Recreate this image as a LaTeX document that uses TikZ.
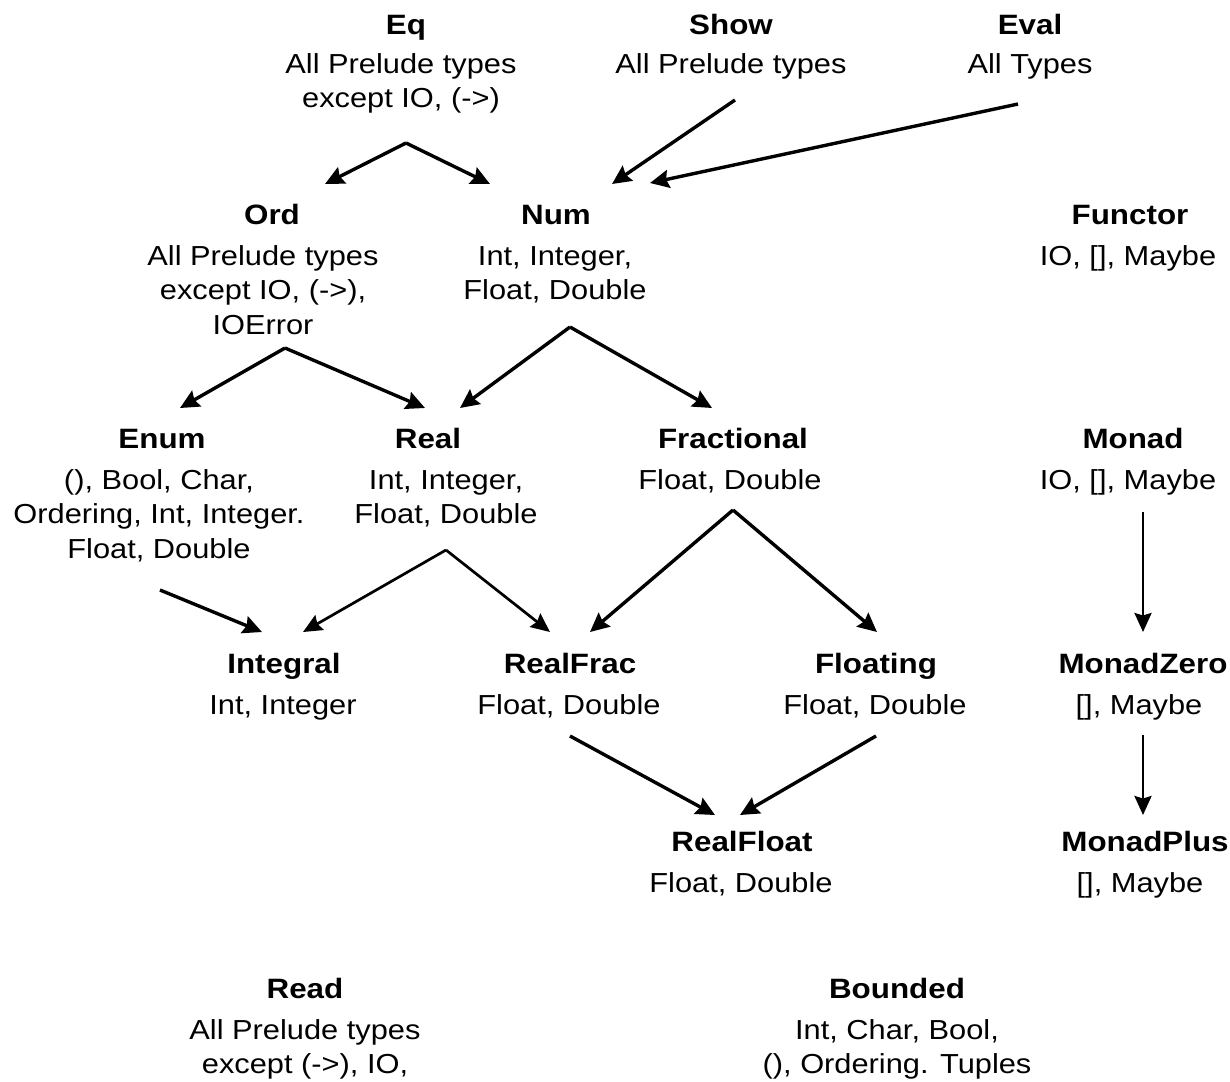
\documentclass[tikz,border=0pt]{standalone}
\usepackage{fontspec}
\setmainfont{Liberation Sans}[FakeStretch=1.12]
\usetikzlibrary{arrows.meta}
\tikzset{
  cls/.style={font=\bfseries\fontsize{28}{34}\selectfont, inner sep=0pt, anchor=base},
  desc/.style={font=\fontsize{27.5}{34.5}\selectfont, inner sep=0pt, anchor=north, align=center},
  arr/.style={line width=3.4pt, -{Stealth[length=19pt,width=18pt,inset=2.5pt]}},
  arrthin/.style={line width=2.7pt, -{Stealth[length=19pt,width=17pt,inset=2.5pt]}},
}
\begin{document}
\begin{tikzpicture}[x=1pt,y=-1pt]
\useasboundingbox[fill=white] (0,0) rectangle (1230,1081);
% titles (baselines) and descriptions (north = baseline - 24.15)
\node[cls] (eq) at (406,35) {Eq};
\node[desc] (eqd) at (401,48.85) {\strut All Prelude types\\except IO, (->)};
\node[cls] (show) at (731,35) {Show};
\node[desc] (showd) at (731,48.85) {\strut All Prelude types};
\node[cls] (eval) at (1030,35) {Eval};
\node[desc] (evald) at (1030,48.85) {\strut All Types};

\node[cls] (ord) at (272,224) {Ord};
\node[desc] (ordd) at (263,240.85) {\strut All Prelude types\\except IO, (->),\\IOError};
\node[cls] (num) at (556,224) {Num};
\node[desc] (numd) at (555,240.85) {\strut Int, Integer,\\Float, Double};
\node[cls] (functor) at (1130,224) {Functor};
\node[desc] (functord) at (1128,240.85) {\strut IO, [], Maybe};

\node[cls] (enum) at (162,448) {Enum};
\node[desc] (enumd) at (159,464.85) {\strut (), Bool, Char,\\Ordering, Int, Integer.\\Float, Double};
\node[cls] (real) at (428,448) {Real};
\node[desc] (reald) at (446,464.85) {\strut Int, Integer,\\Float, Double};
\node[cls] (frac) at (733,448) {Fractional};
\node[desc] (fracd) at (730,464.85) {\strut Float, Double};
\node[cls] (monad) at (1133,448) {Monad};
\node[desc] (monadd) at (1128,464.85) {\strut IO, [], Maybe};

\node[cls] (integral) at (284,673) {Integral};
\node[desc] (integrald) at (283,689.85) {\strut Int, Integer};
\node[cls] (realfrac) at (570,673) {RealFrac};
\node[desc] (realfracd) at (569,689.85) {\strut Float, Double};
\node[cls] (floating) at (876,673) {Floating};
\node[desc] (floatingd) at (875,689.85) {\strut Float, Double};
\node[cls] (monadzero) at (1143,673) {MonadZero};
\node[desc] (monadzerod) at (1139,689.85) {\strut [], Maybe};

\node[cls] (realfloat) at (742,851) {RealFloat};
\node[desc] (realfloatd) at (741,867.85) {\strut Float, Double};
\node[cls] (monadplus) at (1145,851) {MonadPlus};
\node[desc] (monadplusd) at (1140,867.85) {\strut [], Maybe};

\node[cls] (read) at (305,998) {Read};
\node[desc] (readd) at (305,1014.85) {\strut All Prelude types\\except (->), IO,};
\node[cls] (bounded) at (897,998) {Bounded};
\node[desc] (boundedd) at (897,1014.85) {\strut Int, Char, Bool,\\(), Ordering. Tuples};

% connector ends
\coordinate (eqo) at (406,143);
\coordinate (ordi) at (325,184);
\coordinate (numi1) at (490,184);
\coordinate (showo) at (735,100);
\coordinate (numi2) at (612,184);
\coordinate (evalo) at (1018,104);
\coordinate (numi3) at (650,183);
\coordinate (ordo) at (285,348);
\coordinate (enumi) at (180,408);
\coordinate (reali1) at (425,408);
\coordinate (numo) at (570,327);
\coordinate (reali2) at (460,408);
\coordinate (fraci) at (712,408);
\coordinate (fraco) at (733,510);
\coordinate (realfraci1) at (590,632);
\coordinate (floatingi) at (877,632);
\coordinate (realo) at (446,550);
\coordinate (integrali1) at (303,632);
\coordinate (realfraci2) at (550,632);
\coordinate (enumo) at (160,590);
\coordinate (integrali2) at (262,632);
\coordinate (realfraco) at (570,736);
\coordinate (realfloati1) at (715,815);
\coordinate (floatingo) at (876,736);
\coordinate (realfloati2) at (740,815);
\coordinate (monado) at (1143,512);
\coordinate (monadzeroi) at (1143,632);
\coordinate (monadzeroo) at (1143,735);
\coordinate (monadplusi) at (1143,815);

\draw[arr] (eqo) -- (ordi);
\draw[arr] (eqo) -- (numi1);
\draw[arr] (showo) -- (numi2);
\draw[arr] (evalo) -- (numi3);
\draw[arr] (ordo) -- (enumi);
\draw[arr] (ordo) -- (reali1);
\draw[arr] (numo) -- (reali2);
\draw[arr] (numo) -- (fraci);
\draw[arr] (fraco) -- (realfraci1);
\draw[arr] (fraco) -- (floatingi);
\draw[arrthin] (realo) -- (integrali1);
\draw[arrthin] (realo) -- (realfraci2);
\draw[arr] (enumo) -- (integrali2);
\draw[arr] (realfraco) -- (realfloati1);
\draw[arr] (floatingo) -- (realfloati2);
\draw[arrthin] (monado) -- (monadzeroi);
\draw[arrthin] (monadzeroo) -- (monadplusi);
\end{tikzpicture}
\end{document}
